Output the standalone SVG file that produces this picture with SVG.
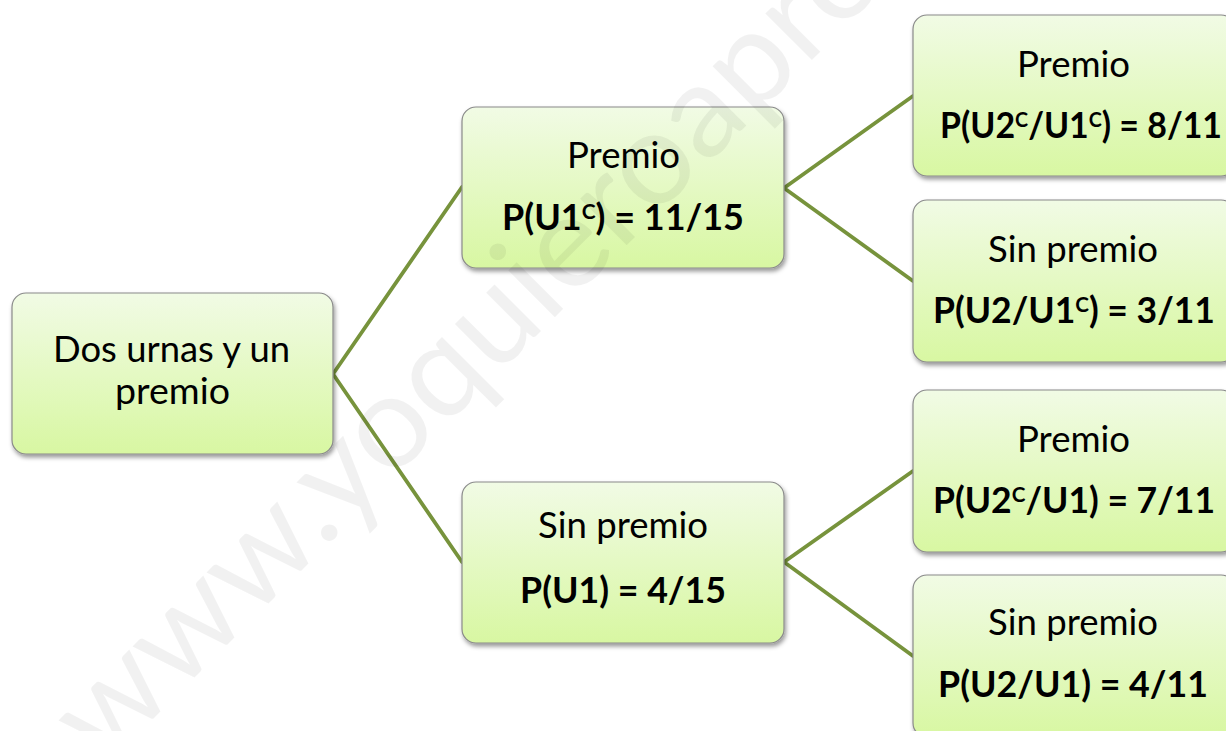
<svg xmlns="http://www.w3.org/2000/svg" width="1226" height="731" viewBox="0 0 1226 731">
  <style>
    .box { fill: url(#g); stroke: #8a8a8a; stroke-width: 1.2; filter: url(#sh); }
    .t { font-family: Lato, "Open Sans", "Liberation Sans", sans-serif; font-size: 36px; fill: #000; }
    .b { font-weight: bold; }
    .sup { font-size: 21px; }
    .con { stroke: #77933c; stroke-width: 3.8; fill: none; stroke-linecap: round; stroke-linejoin: round; }
    .wm { font-family: Lato, "Liberation Sans", sans-serif; font-size: 130px; fill: #000; fill-opacity: 0.055; }
  </style>
  <defs>
    <linearGradient id="g" x1="0" y1="0" x2="0" y2="1">
      <stop offset="0" stop-color="#f1fbe5"/>
      <stop offset="1" stop-color="#d8f7a2"/>
    </linearGradient>
    <filter id="sh" x="-10%" y="-10%" width="120%" height="130%">
      <feDropShadow dx="1.5" dy="3" stdDeviation="2" flood-color="#000" flood-opacity="0.4"/>
    </filter>
  </defs>
  <rect width="1226" height="731" fill="#ffffff"/>

  <g id="connectors">
    <polyline class="con" points="462,187 333,374 462,562"/>
    <polyline class="con" points="913,96 784,188 913,281"/>
    <polyline class="con" points="913,471 784,562 913,656"/>
  </g>

  <g id="root">
    <rect class="box" x="12" y="293" width="321" height="161" rx="14"/>
    <text class="t" x="53" y="362" textLength="237" lengthAdjust="spacingAndGlyphs">Dos urnas y un</text>
    <text class="t" x="115" y="404" textLength="115" lengthAdjust="spacingAndGlyphs">premio</text>
  </g>

  <g id="premio1">
    <rect class="box" x="462" y="107" width="322" height="161" rx="14"/>
    <text class="t" x="567" y="168" textLength="113" lengthAdjust="spacingAndGlyphs">Premio</text>
    <text class="t b" x="502" y="230" textLength="242" lengthAdjust="spacingAndGlyphs">P(U1<tspan class="sup" dy="-11">C</tspan><tspan dy="11">) = 11/15</tspan></text>
  </g>

  <g id="sinpremio1">
    <rect class="box" x="462" y="482" width="322" height="161" rx="14"/>
    <text class="t" x="538" y="538" textLength="170" lengthAdjust="spacingAndGlyphs">Sin premio</text>
    <text class="t b" x="520" y="603" textLength="206" lengthAdjust="spacingAndGlyphs">P(U1) = 4/15</text>
  </g>

  <g id="premio2a">
    <rect class="box" x="913" y="15" width="322" height="161" rx="14"/>
    <text class="t" x="1017" y="77" textLength="113" lengthAdjust="spacingAndGlyphs">Premio</text>
    <text class="t b" x="940" y="138" textLength="282" lengthAdjust="spacingAndGlyphs">P(U2<tspan class="sup" dy="-11">C</tspan><tspan dy="11">/U1</tspan><tspan class="sup" dy="-11">C</tspan><tspan dy="11">) = 8/11</tspan></text>
  </g>

  <g id="sinpremio2a">
    <rect class="box" x="913" y="200" width="322" height="162" rx="14"/>
    <text class="t" x="988" y="262" textLength="170" lengthAdjust="spacingAndGlyphs">Sin premio</text>
    <text class="t b" x="933" y="323" textLength="282" lengthAdjust="spacingAndGlyphs">P(U2/U1<tspan class="sup" dy="-11">C</tspan><tspan dy="11">) = 3/11</tspan></text>
  </g>

  <g id="premio2b">
    <rect class="box" x="913" y="390" width="322" height="162" rx="14"/>
    <text class="t" x="1017" y="452" textLength="113" lengthAdjust="spacingAndGlyphs">Premio</text>
    <text class="t b" x="933" y="513" textLength="282" lengthAdjust="spacingAndGlyphs">P(U2<tspan class="sup" dy="-11">C</tspan><tspan dy="11">/U1) = 7/11</tspan></text>
  </g>

  <g id="sinpremio2b">
    <rect class="box" x="913" y="575" width="322" height="162" rx="14"/>
    <text class="t" x="988" y="635" textLength="170" lengthAdjust="spacingAndGlyphs">Sin premio</text>
    <text class="t b" x="938" y="697" textLength="270" lengthAdjust="spacingAndGlyphs">P(U2/U1) = 4/11</text>
  </g>

  <g id="watermark">
    <text class="wm" transform="translate(103.5,768.5) rotate(-45)" textLength="1457" lengthAdjust="spacingAndGlyphs">www.yoquieroaprobar.es</text>
  </g>
</svg>
